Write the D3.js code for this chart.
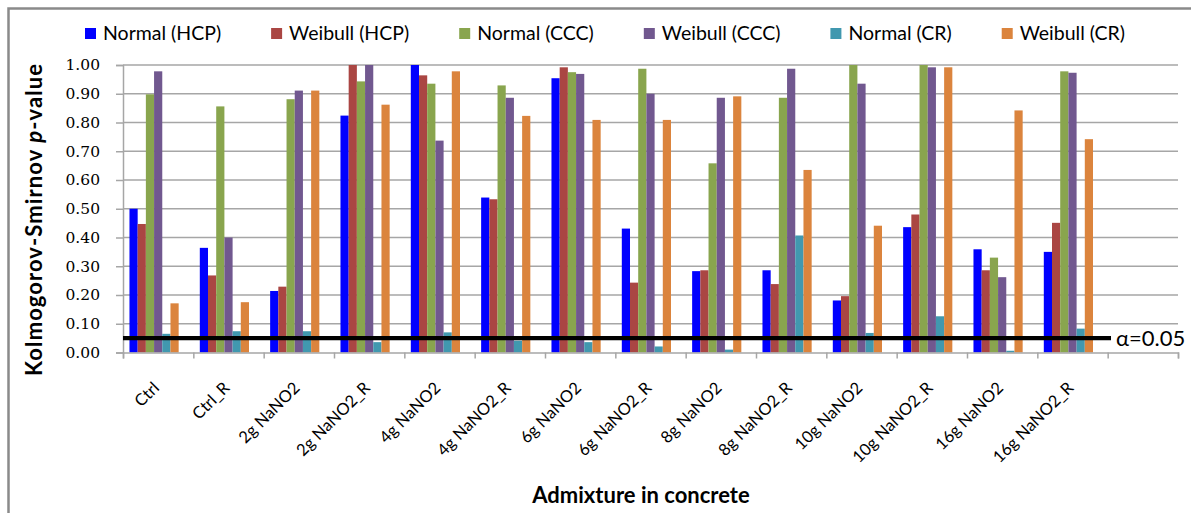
<!DOCTYPE html>
<html>
<head>
<meta charset="utf-8">
<script src="https://cdn.jsdelivr.net/npm/d3@7"></script>
<style>
  html, body { margin: 0; padding: 0; background: #ffffff; }
  svg { display: block; }
</style>
</head>
<body>
<svg id="chart" width="1191" height="513"></svg>
<script>
// ---------- data ----------
const categories = ["Ctrl", "Ctrl_R", "2g NaNO2", "2g NaNO2_R", "4g NaNO2", "4g NaNO2_R",
  "6g NaNO2", "6g NaNO2_R", "8g NaNO2", "8g NaNO2_R", "10g NaNO2", "10g NaNO2_R",
  "16g NaNO2", "16g NaNO2_R"];
const seriesNames = ["Normal (HCP)", "Weibull (HCP)", "Normal (CCC)", "Weibull (CCC)", "Normal (CR)", "Weibull (CR)"];
const seriesColors = ["#0000FF", "#AA4643", "#89A54E", "#71588F", "#4198AF", "#DB843D"];
const normalHCP  = [0.500, 0.364, 0.214, 0.824, 1.000, 0.539, 0.954, 0.431, 0.283, 0.286, 0.181, 0.436, 0.359, 0.350];
const weibullHCP = [0.447, 0.268, 0.229, 1.000, 0.964, 0.533, 0.992, 0.243, 0.286, 0.238, 0.196, 0.480, 0.286, 0.451];
const normalCCC  = [0.898, 0.856, 0.881, 0.943, 0.935, 0.929, 0.975, 0.987, 0.658, 0.886, 1.000, 1.000, 0.330, 0.978];
const weibullCCC = [0.978, 0.400, 0.911, 1.000, 0.737, 0.886, 0.969, 0.900, 0.886, 0.987, 0.935, 0.992, 0.262, 0.973];
const normalCR   = [0.065, 0.074, 0.074, 0.036, 0.070, 0.041, 0.036, 0.021, 0.010, 0.407, 0.068, 0.126, 0.006, 0.083];
const weibullCR  = [0.171, 0.175, 0.911, 0.862, 0.978, 0.823, 0.809, 0.809, 0.891, 0.635, 0.441, 0.992, 0.842, 0.742];
const yTicks = [0.0, 0.1, 0.2, 0.3, 0.4, 0.5, 0.6, 0.7, 0.8, 0.9, 1.0];
const alphaValue = 0.05;
const alphaLabel = "α=0.05";
const xTitle = "Admixture in concrete";

const seriesValues = [normalHCP, weibullHCP, normalCCC, weibullCCC, normalCR, weibullCR];

// ---------- layout ----------
const svg = d3.select("#chart");
const plot = { left: 123, right: 1178, top: 65, bottom: 352.5 };
const fontSans = "Lato, 'Open Sans', sans-serif";
const gridColor = "#a6a6a6";

// outer frame (right & bottom edges fall outside the picture)
svg.append("rect")
  .attr("x", 8.5).attr("y", 8.5)
  .attr("width", 1250).attr("height", 600)
  .attr("fill", "none").attr("stroke", "#8a8a8a").attr("stroke-width", 2.5);

// ---------- scales ----------
const slots = categories.concat([" "]);  // one empty category slot at the right end
const x0 = d3.scaleBand().domain(slots).range([plot.left, plot.right])
  .paddingInner(0.184).paddingOuter(0.092);
const x1 = d3.scaleBand().domain(seriesNames.concat(["(blank)"])).range([0, x0.bandwidth()]);
const y = d3.scaleLinear().domain([0, 1]).range([plot.bottom, plot.top]);

// ---------- gridlines ----------
svg.append("g")
  .selectAll("line")
  .data(yTicks.filter(d => d > 0))
  .join("line")
  .attr("x1", plot.left).attr("x2", plot.right)
  .attr("y1", d => y(d)).attr("y2", d => y(d))
  .attr("stroke", gridColor).attr("stroke-width", 1.5);

// ---------- bars ----------
const gBars = svg.append("g");
categories.forEach((cat, ci) => {
  seriesNames.forEach((s, si) => {
    const v = seriesValues[si][ci];
    gBars.append("rect")
      .attr("x", x0(cat) + x1(s))
      .attr("y", y(v))
      .attr("width", x1.bandwidth())
      .attr("height", y(0) - y(v))
      .attr("fill", seriesColors[si]);
  });
});

// ---------- axes ----------
const yAxis = d3.axisLeft(y).tickValues(yTicks).tickSize(7).tickPadding(16)
  .tickFormat(d3.format(".2f"));
const gy = svg.append("g").attr("transform", `translate(${plot.left},0)`).call(yAxis);
gy.select(".domain").attr("stroke", gridColor).attr("stroke-width", 1.5);
gy.selectAll(".tick line").attr("stroke", gridColor).attr("stroke-width", 1.5);
gy.selectAll(".tick text")
  .attr("font-family", "'DejaVu Serif', serif")
  .attr("font-size", 15.5)
  .attr("fill", "#000");

// x axis: baseline + boundary ticks
const boundaryScale = d3.scaleLinear().domain([0, slots.length]).range([plot.left, plot.right]);
const xAxis = d3.axisBottom(boundaryScale).tickValues(d3.range(0, slots.length + 1))
  .tickSize(6).tickFormat("");
const gx = svg.append("g").attr("transform", `translate(0,${plot.bottom})`).call(xAxis);
gx.select(".domain").attr("stroke", gridColor).attr("stroke-width", 1.5);
gx.selectAll(".tick line").attr("stroke", gridColor).attr("stroke-width", 1.5);

// rotated category labels
svg.append("g")
  .selectAll("text")
  .data(categories)
  .join("text")
  .attr("transform", d => `translate(${x0(d) + x0.bandwidth() / 2 + 2},${389}) rotate(-45)`)
  .attr("text-anchor", "end")
  .attr("font-family", fontSans)
  .attr("font-size", 16.5)
  .attr("fill", "#000")
  .text(d => d);

// ---------- alpha line ----------
svg.append("line")
  .attr("x1", plot.left).attr("x2", 1111)
  .attr("y1", y(alphaValue)).attr("y2", y(alphaValue))
  .attr("stroke", "#000").attr("stroke-width", 4.2);
svg.append("text")
  .attr("x", 1116).attr("y", y(alphaValue) + 8)
  .attr("font-family", fontSans).attr("font-size", 22)
  .attr("fill", "#000")
  .text(alphaLabel);

// ---------- axis titles ----------
const yTitle = svg.append("text")
  .attr("transform", `translate(42,${220}) rotate(-90)`)
  .attr("text-anchor", "middle")
  .attr("font-family", fontSans).attr("font-size", 22).attr("font-weight", "bold")
  .attr("textLength", 312)
  .attr("fill", "#000");
yTitle.append("tspan").text("Kolmogorov-Smirnov ");
yTitle.append("tspan").attr("font-style", "italic").text("p");
yTitle.append("tspan").text("-value");

svg.append("text")
  .attr("x", 641).attr("y", 503)
  .attr("text-anchor", "middle")
  .attr("font-family", fontSans).attr("font-size", 22).attr("font-weight", "bold")
  .attr("fill", "#000")
  .text(xTitle);

// ---------- legend ----------
const legend = svg.append("g");
let lx = 85;
seriesNames.forEach((name, i) => {
  const g = legend.append("g").attr("transform", `translate(${lx},0)`);
  g.append("rect").attr("x", 0).attr("y", 28).attr("width", 11).attr("height", 11)
    .attr("fill", seriesColors[i]);
  const t = g.append("text").attr("x", 18).attr("y", 40)
    .attr("font-family", fontSans).attr("font-size", 19.5).attr("fill", "#000")
    .text(name);
  lx += 18 + t.node().getComputedTextLength() + 50;
});
</script>
</body>
</html>
